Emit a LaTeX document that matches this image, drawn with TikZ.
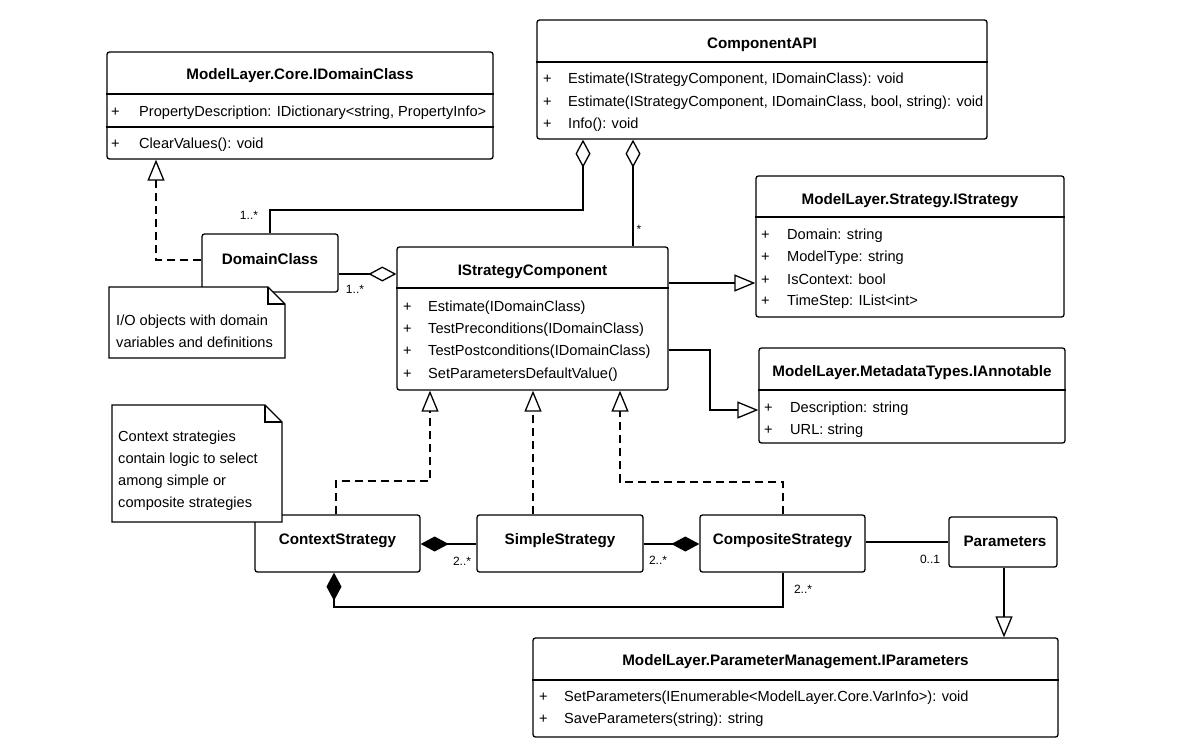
\documentclass[tikz,border=0pt]{standalone}
\usepackage{fontspec}
\setmainfont{Liberation Sans}
\usetikzlibrary{arrows.meta}
\newcommand\plusm{\makebox[25pt][l]{+}}
\begin{document}
\begin{tikzpicture}[x=1pt,y=-1pt,
  box/.style={draw, line width=1.3pt, rounded corners=2.5pt, fill=white, inner sep=0pt},
  ttl/.style={font=\fontsize{15.2}{17}\selectfont\bfseries, inner sep=0pt, yshift=-1pt},
  mem/.style={font=\fontsize{14.6}{17}\selectfont, anchor=west, inner sep=0pt, yshift=-1.5pt},
  notetxt/.style={font=\fontsize{14.6}{22}\selectfont, anchor=west, align=left, inner sep=0pt},
  lbl/.style={font=\fontsize{12}{14}\selectfont, inner sep=0pt},
  conn/.style={line width=1.3pt},
  divider/.style={line width=1.3pt},
  notebox/.style={line width=1.3pt, fill=white, line join=miter},
  real/.style={conn, dash pattern=on 8pt off 5pt, -{Triangle[open, length=21pt, width=17pt]}},
  gen/.style={conn, -{Triangle[open, length=21pt, width=17pt]}},
  agg/.style={conn, {Diamond[open, length=28pt, width=15pt]}-},
  comp/.style={conn, {Diamond[length=28pt, width=15pt]}-}
]
\useasboundingbox (0,0) rectangle (1182,750);

% ModelLayer.Core.IDomainClass
\node[box, minimum width=386pt, minimum height=107pt] (idc) at (300,105.5) {};
\draw[divider] (idc.west |- 0,94) -- (idc.east |- 0,94);
\draw[divider] (idc.west |- 0,127) -- (idc.east |- 0,127);
\node[ttl] (idct) at (300,75) {ModelLayer.Core.IDomainClass};
\node[mem] (idc1) at (111,111) {\makebox[28pt][l]{+}PropertyDescription: IDictionary<string, PropertyInfo>};
\node[mem] (idc2) at (111,143) {\makebox[28pt][l]{+}ClearValues(): void};

% ComponentAPI
\node[box, minimum width=450pt, minimum height=119pt] (capi) at (762,79.5) {};
\draw[divider] (capi.west |- 0,62) -- (capi.east |- 0,62);
\node[ttl] (capit) at (762,44) {ComponentAPI};
\node[mem] (capi1) at (543,78) {\plusm Estimate(IStrategyComponent, IDomainClass): void};
\node[mem] (capi2) at (543,101) {\plusm Estimate(IStrategyComponent, IDomainClass, bool, string): void};
\node[mem] (capi3) at (543,123) {\plusm Info(): void};

% DomainClass
\node[box, minimum width=136pt, minimum height=58pt] (dc) at (270,263) {};
\node[ttl] (dct) at (270,258) {DomainClass};

% IStrategyComponent
\node[box, minimum width=271pt, minimum height=143pt] (isc) at (532.5,318.5) {};
\draw[divider] (isc.west |- 0,288) -- (isc.east |- 0,288);
\node[ttl] (isct) at (532.5,271) {IStrategyComponent};
\node[mem] (isc1) at (403,306) {\plusm Estimate(IDomainClass)};
\node[mem] (isc2) at (403,328) {\plusm TestPreconditions(IDomainClass)};
\node[mem] (isc3) at (403,350) {\plusm TestPostconditions(IDomainClass)};
\node[mem] (isc4) at (403,373) {\plusm SetParametersDefaultValue()};

% ModelLayer.Strategy.IStrategy
\node[box, minimum width=308pt, minimum height=141pt] (ist) at (910,246.5) {};
\draw[divider] (ist.west |- 0,217) -- (ist.east |- 0,217);
\node[ttl] (istt) at (910,200) {ModelLayer.Strategy.IStrategy};
\node[mem] (ist1) at (761,234) {\makebox[26pt][l]{+}Domain: string};
\node[mem] (ist2) at (761,256) {\makebox[26pt][l]{+}ModelType: string};
\node[mem] (ist3) at (761,278) {\makebox[26pt][l]{+}IsContext: bool};
\node[mem] (ist4) at (761,300) {\makebox[26pt][l]{+}TimeStep: IList<int>};

% ModelLayer.MetadataTypes.IAnnotable
\node[box, minimum width=306pt, minimum height=95pt] (ian) at (912,395.5) {};
\draw[divider] (ian.west |- 0,390) -- (ian.east |- 0,390);
\node[ttl] (iant) at (912,372) {ModelLayer.MetadataTypes.IAnnotable};
\node[mem] (ian1) at (764,407) {\makebox[26pt][l]{+}Description: string};
\node[mem] (ian2) at (764,429) {\makebox[26pt][l]{+}URL: string};

% Strategies
\node[box, minimum width=165pt, minimum height=57pt] (cs) at (337.5,543.5) {};
\node[ttl] (cst) at (337.5,540) {ContextStrategy};
\node[box, minimum width=166pt, minimum height=57pt] (ss) at (560,543.5) {};
\node[ttl] (sst) at (560,540) {SimpleStrategy};
\node[box, minimum width=165pt, minimum height=57pt] (cps) at (782.5,543.5) {};
\node[ttl] (cpst) at (782.5,540) {CompositeStrategy};
\node[box, minimum width=108pt, minimum height=50pt] (par) at (1003,542) {};
\node[ttl] (part) at (1005,540) {Parameters};

% ModelLayer.ParameterManagement.IParameters
\node[box, minimum width=525pt, minimum height=99pt] (ipar) at (795.5,687.5) {};
\draw[divider] (ipar.west |- 0,680) -- (ipar.east |- 0,680);
\node[ttl] (ipart) at (795.5,661) {ModelLayer.ParameterManagement.IParameters};
\node[mem] (ipar1) at (539,696) {\plusm SetParameters(IEnumerable<ModelLayer.Core.VarInfo>): void};
\node[mem] (ipar2) at (539,718) {\plusm SaveParameters(string): string};

% connectors
\draw[real] (dc.west |- 0,260) -| (idc.south -| 156,0);
\draw[agg] (capi.south -| 583,0) -- (583,210) -| (dc.north);
\node[lbl] (l1) at (249,215) {1..*};
\draw[agg] (capi.south -| 633,0) -- (isc.north -| 633,0);
\node[lbl] (l2) at (639,229) {*};
\draw[agg] (isc.west |- 0,274) -- (dc.east |- 0,274);
\node[lbl] (l3) at (355,289) {1..*};
\draw[gen] (isc.east |- 0,283) -- (ist.west |- 0,283);
\draw[gen] (isc.east |- 0,350) -- (710,350) |- (ian.west |- 0,410);

\draw[real] (cs.north -| 336,0) -- (336,481) -| (isc.south -| 430,0);
\draw[real] (ss.north -| 533,0) -- (isc.south -| 533,0);
\draw[real] (cps.north -| 783,0) -- (783,482) -| (isc.south -| 620,0);

\draw[comp] (cs.east |- 0,544) -- (ss.west |- 0,544);
\node[lbl] (l4) at (462,561) {2..*};
\draw[comp] (cps.west |- 0,544) -- (ss.east |- 0,544);
\node[lbl] (l5) at (658,560) {2..*};
\draw[comp] (cs.south -| 334,0) -- (334,607) -| (cps.south -| 783,0);
\node[lbl] (l6) at (803,589) {2..*};
\draw[conn] (cps.east |- 0,542) -- (par.west |- 0,542);
\node[lbl] (l7) at (930,559) {0..1};
\draw[gen] (par.south -| 1004,0) -- (ipar.north -| 1004,0);

% notes
\draw[notebox] (109,287) -- (268,287) -- (285,304) -- (285,358) -- (109,358) -- cycle;
\draw[notebox, fill=none] (268,287) -- (268,304) -- (285,304);
\node[notetxt] (n1) at (116,331.5) {I/O objects with domain\\variables and definitions};

\draw[notebox] (112,405) -- (265,405) -- (282,422) -- (282,522) -- (112,522) -- cycle;
\draw[notebox, fill=none] (265,405) -- (265,422) -- (282,422);
\node[notetxt] (n2) at (118,471) {Context strategies\\contain logic to select\\among simple or\\composite strategies};
\end{tikzpicture}
\end{document}
